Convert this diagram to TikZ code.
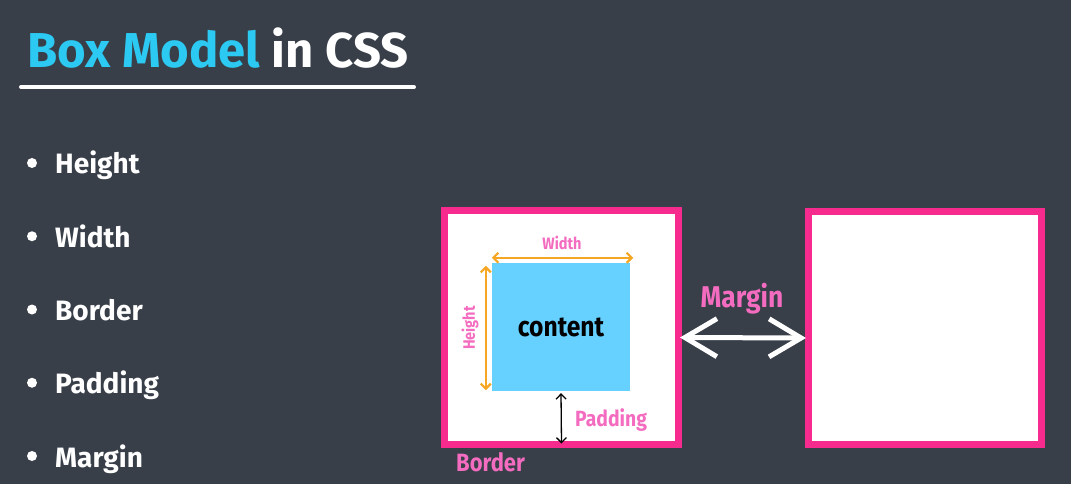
\documentclass[tikz,border=0pt]{standalone}
\usepackage{fontspec}
\usepackage{xcolor}
\usetikzlibrary{arrows.meta, positioning}
\newfontfamily\slidefont{Fira Sans}
\newfontfamily\narrowfont{Fira Sans}[FakeStretch=0.88]
\definecolor{bgdark}{HTML}{383F49}
\definecolor{titlecyan}{HTML}{2CC9F2}
\definecolor{borderpink}{HTML}{F72A8E}
\definecolor{labelpink}{HTML}{F46CC0}
\definecolor{arroworange}{HTML}{F5A623}
\definecolor{contentblue}{HTML}{66D0FF}

\begin{document}
\begin{tikzpicture}[x=1pt, y=-1pt,
  every node/.style={inner sep=0pt, font=\slidefont\bfseries},
  item/.style={anchor=base west, text=white, font=\slidefont\bfseries\fontsize{28}{28}\selectfont},
  dot/.style={circle, fill=white, minimum size=10pt},
  cssbox/.style={draw=borderpink, line width=7pt, fill=white, minimum width=234pt, minimum height=234pt},
  tag/.style={text=labelpink, font=\narrowfont\bfseries\fontsize{#1}{#1}\selectfont},
  sizearrow/.style={arroworange, line width=2.2pt, {Straight Barb[length=5pt,width=10pt]}-{Straight Barb[length=5pt,width=10pt]}}
]
\fill[bgdark] (0,0) rectangle (1071,484);
\useasboundingbox (0,0) rectangle (1071,484);

% title
\node[anchor=base west, font=\slidefont\bfseries\fontsize{49}{49}\selectfont] (title) at (27,68)
  {\textcolor{titlecyan}{Box Model} \textcolor{white}{in CSS}};
\draw[white, line width=4pt, line cap=round] ([xshift=-6pt, yshift=-19pt]title.base west) -- ([xshift=5pt, yshift=-19pt]title.base east);

% list
\foreach \t [count=\i] in {Height,Width,Border,Padding,Margin} {
  \node[dot] (dot\i) at (32, {163+73.25*(\i-1)}) {};
  \node[item] (item\i) at (55, {174+73.25*(\i-1)}) {\t};
}

% boxes
\node[cssbox] (lbox) at (561.5,327.5) {};
\node[cssbox, minimum width=233pt, minimum height=233pt] (rbox) at (925,328) {};
\node[fill=contentblue, minimum width=138pt, minimum height=128pt, font=\narrowfont\bfseries\fontsize{28}{28}\selectfont] (content) at (561,327) {content};

% sizes
\draw[sizearrow] ([yshift=5pt]content.north west) -- ([xshift=3pt, yshift=5pt]content.north east);
\draw[sizearrow] ([xshift=-6pt, yshift=-3pt]content.north west) -- ([xshift=-6pt, yshift=1pt]content.south west);
\node[tag=16.5, anchor=base] (wlabel) at (562,249) {Width};
\node[tag=16.5, rotate=90] (hlabel) at (470,328) {Height};

% padding
\draw[black, line width=1.3pt, {Straight Barb[length=5pt,width=10pt]}-{Straight Barb[length=5pt,width=10pt]}] ([yshift=-2pt]content.south) -- ([yshift=4.5pt]lbox.south);
\node[tag=22, anchor=base west] (plabel) at (575,426) {Padding};
\node[tag=25, anchor=base west] (blabel) at (456,471) {Border};

% margin
\draw[white, line width=5pt, line cap=round, line join=round, {Straight Barb[length=32pt,width=38pt]}-{Straight Barb[length=32pt,width=38pt]}] ([xshift=-2pt, yshift=-10pt]lbox.east) -- ([xshift=1pt, yshift=-10pt]rbox.west);
\node[tag=30, anchor=base] (mlabel) at (742,307) {Margin};
\end{tikzpicture}
\end{document}
